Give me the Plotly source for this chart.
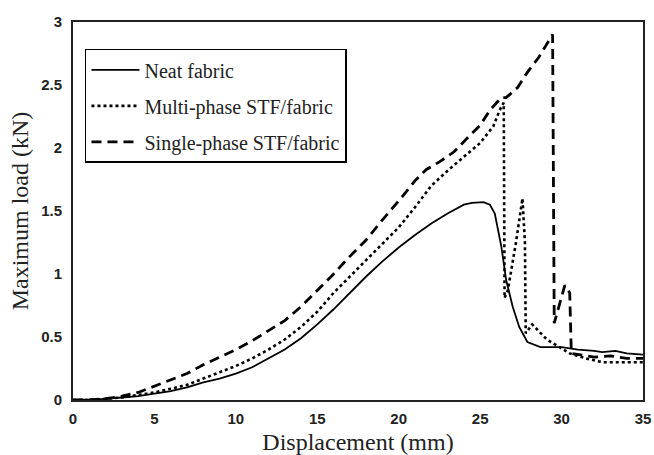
import plotly.graph_objects as go

neat_x = [0, 1, 1.5, 3, 4, 5, 6, 7, 8, 9, 10, 11, 12, 13, 14, 15, 16, 17, 18, 19, 20, 21, 22, 23, 24, 24.5, 25.2, 25.6, 25.9, 26.3, 26.6, 27.0, 27.4, 27.9, 28.7, 30, 31, 32, 32.5, 33.3, 34, 35]
neat_y = [0, 0, 0.005, 0.02, 0.03, 0.05, 0.07, 0.10, 0.14, 0.17, 0.21, 0.26, 0.33, 0.40, 0.49, 0.60, 0.72, 0.85, 0.98, 1.10, 1.21, 1.31, 1.40, 1.48, 1.55, 1.565, 1.57, 1.55, 1.48, 1.22, 0.95, 0.74, 0.58, 0.46, 0.42, 0.42, 0.40, 0.39, 0.38, 0.39, 0.37, 0.36]

multi_x = [0, 1, 2, 3, 4, 5, 6, 7, 8, 9, 10, 11, 12, 13, 14, 15, 16, 17, 18, 19, 20, 21, 22, 23, 24, 25, 25.8, 26.2, 26.45, 26.5, 26.7, 27.2, 27.6, 27.75, 27.8, 28.2, 29.1, 29.9, 30.5, 31.5, 32.5, 33.5, 35]
multi_y = [0, 0, 0.01, 0.02, 0.04, 0.06, 0.09, 0.12, 0.17, 0.22, 0.27, 0.33, 0.40, 0.48, 0.58, 0.70, 0.85, 0.98, 1.11, 1.24, 1.37, 1.53, 1.70, 1.82, 1.93, 2.04, 2.17, 2.30, 2.36, 0.81, 0.87, 1.25, 1.60, 1.25, 0.53, 0.60, 0.48, 0.42, 0.37, 0.33, 0.30, 0.30, 0.30]

single_x = [0, 1, 2, 3, 4, 5, 6, 7, 8, 9, 10, 11, 12, 13, 14, 15, 16, 17, 18, 19, 20, 21, 21.7, 22.5, 23.4, 24.3, 25, 25.6, 26.3, 26.6, 27.3, 27.9, 28.6, 29.45, 29.55, 30.2, 30.5, 30.6, 31.5, 32, 33, 34, 35]
single_y = [0, 0, 0.01, 0.03, 0.06, 0.11, 0.16, 0.21, 0.28, 0.34, 0.40, 0.47, 0.55, 0.63, 0.74, 0.87, 1.00, 1.14, 1.27, 1.43, 1.58, 1.74, 1.83, 1.89, 1.97, 2.09, 2.18, 2.30, 2.40, 2.40, 2.48, 2.60, 2.72, 2.90, 0.61, 0.91, 0.85, 0.37, 0.35, 0.34, 0.35, 0.33, 0.33]

x_ticks = [0, 5, 10, 15, 20, 25, 30, 35]
x_tick_text = ["0", "5", "10", "15", "20", "25", "30", "35"]
y_ticks = [0, 0.5, 1, 1.5, 2, 2.5, 3]
y_tick_text = ["0", "0.5", "1", "1.5", "2", "2.5", "3"]

fig = go.Figure()
fig.add_trace(go.Scatter(x=neat_x, y=neat_y, mode="lines", name="Neat fabric", legendgroup="a",
                         line=dict(color="black", width=1.8)))
fig.add_trace(go.Scatter(x=multi_x, y=multi_y, mode="lines", name="Multi-phase STF/fabric", legendgroup="b",
                         line=dict(color="black", width=2.6, dash="dot")))
fig.add_trace(go.Scatter(x=single_x, y=single_y, mode="lines", name="Single-phase STF/fabric", legendgroup="c",
                         line=dict(color="black", width=2.8, dash="10px,6px")))

tick_font = dict(family="Liberation Sans", size=15, color="#222")
title_font = dict(family="Liberation Serif", size=24, color="#222")

fig.update_layout(
    width=654, height=455,
    margin=dict(l=73, r=11, t=22, b=55),
    paper_bgcolor="white", plot_bgcolor="white",
    showlegend=True,
    legend=dict(x=0.021, y=0.929, xanchor="left", yanchor="top",
                bgcolor="white", bordercolor="black", borderwidth=1.5,
                font=dict(family="Liberation Serif", size=20, color="#222"),
                itemwidth=48, tracegroupgap=7),
    xaxis=dict(range=[0, 35], tickvals=x_ticks, ticktext=["<b>%s</b>" % t for t in x_tick_text],
               showgrid=False, zeroline=False, automargin=False,
               showline=True, linecolor="#222", linewidth=2, mirror=True,
               ticks="", ticklabelstandoff=4, tickfont=tick_font,
               title=dict(text="Displacement (mm)", standoff=9, font=title_font)),
    yaxis=dict(range=[0, 3], tickvals=y_ticks, ticktext=["<b>%s</b>" % t for t in y_tick_text],
               showgrid=False, zeroline=False, automargin=False,
               showline=True, linecolor="#222", linewidth=2, mirror=True,
               ticks="", ticklabelstandoff=6, tickfont=tick_font,
               title=dict(text="Maximum load (kN)", standoff=6, font=title_font)),
)

fig.write_html("out.html")
